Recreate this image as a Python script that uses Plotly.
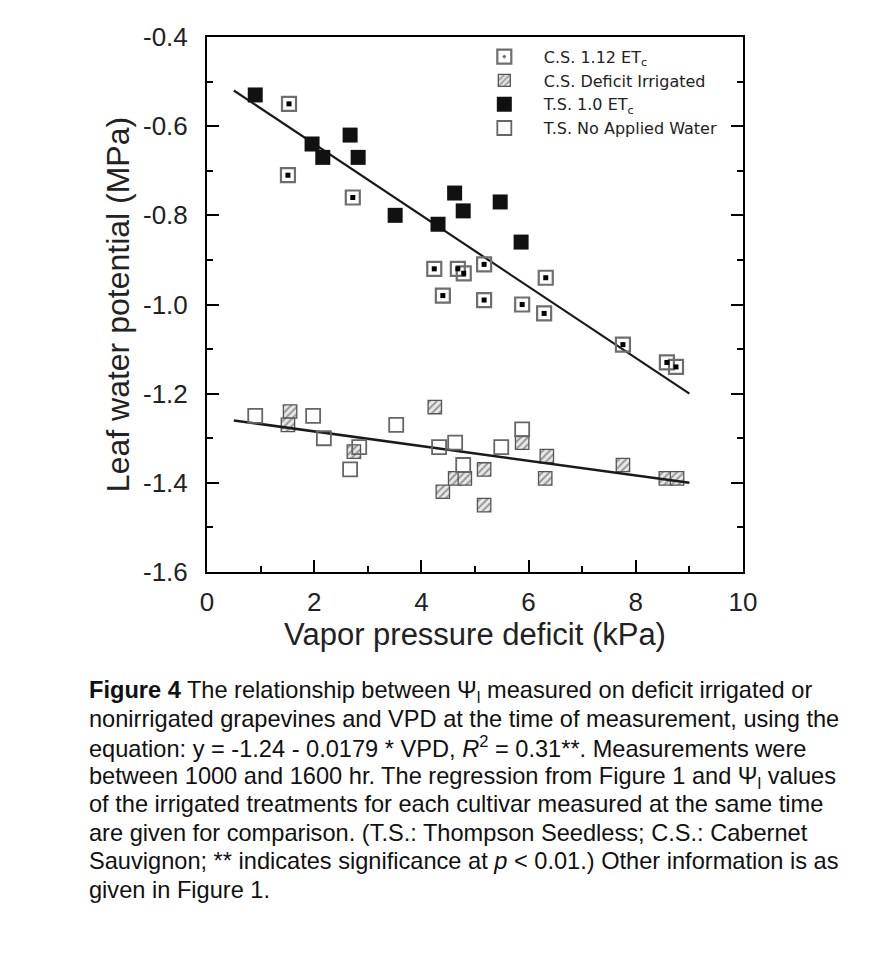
import plotly.graph_objects as go

# ---- data ----
# C.S. 1.12 ETc (open square with black centre)
cs_full_vpd = [1.53, 1.51, 2.72, 4.24, 4.40, 4.68, 4.79, 5.17, 5.17, 5.88, 6.32, 6.29, 7.76, 8.58, 8.75]
cs_full_psi = [-0.55, -0.71, -0.76, -0.92, -0.98, -0.92, -0.93, -0.91, -0.99, -1.00, -0.94, -1.02, -1.09, -1.13, -1.14]

# C.S. Deficit Irrigated (hatched square)
cs_def_vpd = [1.55, 1.51, 2.74, 4.25, 4.40, 4.63, 4.81, 5.17, 5.17, 5.88, 6.34, 6.31, 7.76, 8.56, 8.77]
cs_def_psi = [-1.24, -1.27, -1.33, -1.23, -1.42, -1.39, -1.39, -1.37, -1.45, -1.31, -1.34, -1.39, -1.36, -1.39, -1.39]

# T.S. 1.0 ETc (filled square)
ts_full_vpd = [0.90, 1.96, 2.16, 2.67, 2.82, 3.51, 4.31, 4.62, 4.78, 5.47, 5.86]
ts_full_psi = [-0.53, -0.64, -0.67, -0.62, -0.67, -0.80, -0.82, -0.75, -0.79, -0.77, -0.86]

# T.S. No Applied Water (open square)
ts_dry_vpd = [0.90, 1.98, 2.18, 2.84, 2.67, 3.53, 4.33, 4.63, 4.78, 5.49, 5.88]
ts_dry_psi = [-1.25, -1.25, -1.30, -1.32, -1.37, -1.27, -1.32, -1.31, -1.36, -1.32, -1.28]

# regression lines (end points)
fit_vpd = [0.5, 9.0]
fit_irrigated = [-0.52, -1.20]
fit_stressed = [-1.26, -1.40]

x_ticks = [0, 2, 4, 6, 8, 10]
x_ticktext = ["0", "2", "4", "6", "8", "10"]
y_ticks = [-1.6, -1.4, -1.2, -1.0, -0.8, -0.6, -0.4]
y_ticktext = ["-1.6", "-1.4", "-1.2", "-1.0", "-0.8", "-0.6", "-0.4"]

caption_lines = [
    "<b>Figure 4</b> The relationship between Ψ<sub>l</sub> measured on deficit irrigated or",
    "nonirrigated grapevines and VPD at the time of measurement, using the",
    "equation: y = -1.24 - 0.0179 * VPD, <i>R</i><sup>2</sup> = 0.31**. Measurements were",
    "between 1000 and 1600 hr. The regression from Figure 1 and Ψ<sub>l</sub> values",
    "of the irrigated treatments for each cultivar measured at the same time",
    "are given for comparison. (T.S.: Thompson Seedless; C.S.: Cabernet",
    "Sauvignon; ** indicates significance at <i>p</i> &lt; 0.01.) Other information is as",
    "given in Figure 1.",
]

# marker size in data units for hatched squares (bar based)
SQ_W = 0.25
SQ_H = 0.030

FONT = "Liberation Sans, Arial, Helvetica, sans-serif"

fig = go.Figure()

# regression lines
fig.add_trace(go.Scatter(x=fit_vpd, y=fit_irrigated, mode="lines",
                         line=dict(color="#1a1a1a", width=2.2), showlegend=False, hoverinfo="skip"))
fig.add_trace(go.Scatter(x=fit_vpd, y=fit_stressed, mode="lines",
                         line=dict(color="#1a1a1a", width=2.6), showlegend=False, hoverinfo="skip"))

# C.S. 1.12 ETc
fig.add_trace(go.Scatter(x=cs_full_vpd, y=cs_full_psi, mode="markers", name="C.S. 1.12 ET<sub>c</sub>",
                         legendgroup="csf",
                         marker=dict(symbol="square-open-dot", size=14, color="#6e6e6e",
                                     line=dict(width=2.2))))
fig.add_trace(go.Scatter(x=cs_full_vpd, y=cs_full_psi, mode="markers", showlegend=False,
                         legendgroup="csf",
                         marker=dict(symbol="square", size=5, color="black", line=dict(width=0))))

# C.S. Deficit Irrigated (hatched)
fig.add_trace(go.Bar(x=cs_def_vpd, y=[SQ_H] * len(cs_def_vpd),
                     base=[v - SQ_H / 2 for v in cs_def_psi], width=SQ_W,
                     name="C.S. Deficit Irrigated",
                     marker=dict(color="white", line=dict(color="#555555", width=1.3),
                                 pattern=dict(shape="/", fgcolor="#444444", bgcolor="#e8e8e8",
                                              size=5, solidity=0.4))))

# T.S. 1.0 ETc
fig.add_trace(go.Scatter(x=ts_full_vpd, y=ts_full_psi, mode="markers", name="T.S. 1.0 ET<sub>c</sub>",
                         marker=dict(symbol="square", size=15, color="#111111", line=dict(width=0))))

# T.S. No Applied Water
fig.add_trace(go.Scatter(x=ts_dry_vpd, y=ts_dry_psi, mode="markers", name="T.S. No Applied Water",
                         marker=dict(symbol="square-open", size=14, color="#666666",
                                     line=dict(width=1.8))))

fig.update_xaxes(range=[0, 10], tickvals=x_ticks, ticktext=x_ticktext,
                 showline=True, linecolor="black", linewidth=2, mirror=True,
                 ticks="inside", ticklen=12, tickwidth=1.6, tickcolor="black",
                 minor=dict(ticks="inside", ticklen=6, tickwidth=1.6, tickcolor="black", dtick=1, tick0=0),
                 showgrid=False, zeroline=False, ticklabelstandoff=6,
                 tickfont=dict(size=26, color="#222"),
                 title=dict(text="Vapor pressure deficit (kPa)", font=dict(size=31, color="#222"), standoff=4))
fig.update_yaxes(range=[-1.6, -0.4], tickvals=y_ticks, ticktext=y_ticktext,
                 showline=True, linecolor="black", linewidth=2, mirror="ticks",
                 ticks="inside", ticklen=12, tickwidth=1.6, tickcolor="black",
                 minor=dict(ticks="inside", ticklen=6, tickwidth=1.6, tickcolor="black", dtick=0.1, tick0=-1.6),
                 showgrid=False, zeroline=False, ticklabelstandoff=12,
                 tickfont=dict(size=26, color="#222"),
                 title=dict(text="Leaf water potential (MPa)", font=dict(size=32, color="#222"), standoff=4))

# caption: one annotation per line so that the line spacing matches the reference
PLOT_BOTTOM = 572.0 - 8
PLOT_H = 535.0
CAP_TOP = 690.0 - 8
CAP_STEP = 28.57
for i, line in enumerate(caption_lines):
    shift = 2.0 if "<sub>" in line else 0.0
    fig.add_annotation(text=line, xref="paper", yref="paper", x=-0.224,
                       y=(PLOT_BOTTOM - (CAP_TOP + CAP_STEP * i + shift)) / PLOT_H,
                       xanchor="left", yanchor="middle", align="left", showarrow=False,
                       font=dict(size=23.6, color="#111", family=FONT))

fig.update_layout(
    width=860, height=938,
    margin=dict(l=199, r=125, t=29, b=374),
    paper_bgcolor="white", plot_bgcolor="white",
    font=dict(family=FONT, color="#222"),
    barmode="overlay",
    legend=dict(x=0.481, y=0.995, xanchor="left", yanchor="top", bgcolor="rgba(0,0,0,0)",
                font=dict(size=16, color="#222", family="DejaVu Sans, Liberation Sans, sans-serif"),
                tracegroupgap=0, traceorder="normal", itemwidth=69),
)

fig.write_html("out.html")
